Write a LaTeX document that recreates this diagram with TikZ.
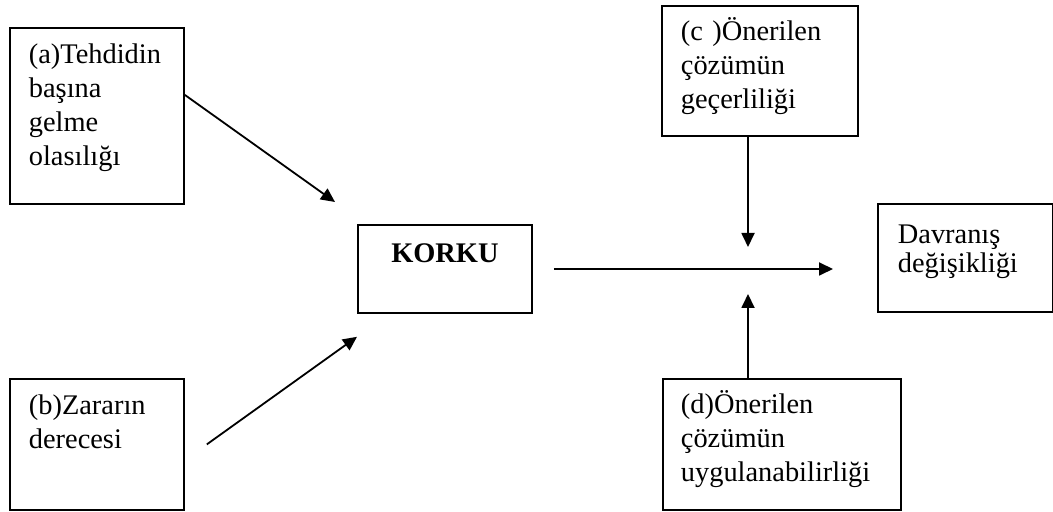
\documentclass[tikz,border=0pt]{standalone}
\usepackage{fontspec}
\setmainfont{Liberation Serif}
\usetikzlibrary{calc,arrows.meta}

\begin{document}
\begin{tikzpicture}[x=0.5pt, y=-0.5pt]
	\tikzstyle{factor}=[draw, line width=0.9pt, anchor=north west, align=left, inner xsep=9.5pt, inner ysep=0pt, font=\fontsize{14.2}{17}\selectfont]
	\tikzstyle{fear}=[factor, align=center, inner xsep=0pt, font=\fontsize{14.2}{17}\selectfont\bfseries]
	\tikzstyle{usage}=[-{Triangle[length=7pt,width=6.5pt]}, line width=0.9pt]

	\useasboundingbox (0,0) rectangle (1053,512);

	\node (a) [factor, text width=68pt, text height=18pt, text depth=70pt] at (9,27) {(a)Tehdidin\\ başına\\ gelme\\ olasılığı};
	\node (b) [factor, text width=68pt, text height=18pt, text depth=47.5pt] at (9,378) {(b)Zararın\\ derecesi};
	\node (korku) [fear, text width=87pt, text height=19pt, text depth=25pt] at (357,224) {KORKU};
	\node (c) [factor, text width=79pt, text height=17.5pt, text depth=47.5pt] at (661,5) {(c )Önerilen\\ çözümün\\ geçerliliği};
	\node (dav) [factor, inner xsep=10pt, text width=67.5pt, text height=20pt, text depth=34pt, font=\fontsize{14.2}{14.5}\selectfont] at (877,203) {Davranış\\ değişikliği};
	\node (d) [factor, inner xsep=9pt, text width=101pt, text height=17.5pt, text depth=48pt] at (662,378) {(d)Önerilen\\ çözümün\\ uygulanabilirliği};

	\coordinate (join) at (748,269);

	\draw[usage] ([yshift=10.5pt]a.east) -- ($(korku.north west)+(-22,-22)$);
	\draw[usage] ([xshift=11pt]b.east) -- ($(korku.south west)+(0,23)$);
	\draw[usage] ($(korku.east |- join)+(21,0)$) -- ($(dav.west |- join)+(-44,0)$);
	\draw[usage] (c.south -| join) -- ($(join)+(0,-22)$);
	\draw[usage] (d.north -| join) -- ($(join)+(0,25)$);
\end{tikzpicture}
\end{document}
